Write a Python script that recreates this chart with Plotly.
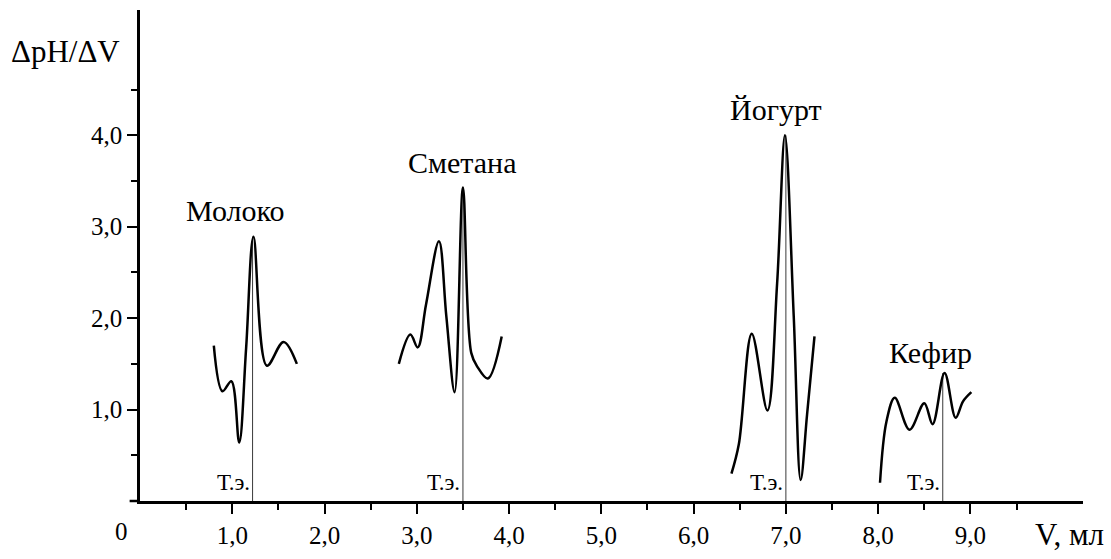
import plotly.graph_objects as go

# ---- data ----
milk_x = [0.80, 0.894, 0.99, 1.075, 1.15, 1.23, 1.375, 1.556, 1.70]
milk_y = [1.70, 1.20, 1.31, 0.64, 1.67, 2.89, 1.48, 1.74, 1.50]

cream_x = [2.805, 2.93, 3.01, 3.10, 3.24, 3.32, 3.41, 3.50, 3.59, 3.655, 3.77, 3.92]
cream_y = [1.50, 1.82, 1.68, 2.15, 2.84, 2.02, 1.19, 3.43, 1.62, 1.47, 1.34, 1.80]

yog_x = [6.41, 6.49, 6.63, 6.80, 6.905, 6.99, 7.085, 7.16, 7.23, 7.31]
yog_y = [0.30, 0.62, 1.83, 0.99, 2.38, 4.00, 2.02, 0.23, 0.95, 1.80]

kef_x = [8.02, 8.09, 8.18, 8.34, 8.50, 8.59, 8.72, 8.84, 8.92, 9.01]
kef_y = [0.20, 0.87, 1.13, 0.78, 1.07, 0.84, 1.40, 0.91, 1.09, 1.19]

# equivalence points (Т.э.)
eq_x = [1.22, 3.50, 7.00, 8.70]
eq_top = [2.89, 3.43, 4.00, 1.40]

# product labels
names = ["Молоко", "Сметана", "Йогурт", "Кефир"]
name_x = [1.03, 3.49, 6.89, 8.57]
name_y = [3.18, 3.70, 4.28, 1.62]

# ticks
x_major = [1, 2, 3, 4, 5, 6, 7, 8, 9]
x_major_text = ["1,0", "2,0", "3,0", "4,0", "5,0", "6,0", "7,0", "8,0", "9,0"]
x_minor = [0.5, 1.5, 2.5, 3.5, 4.5, 5.5, 6.5, 7.5, 8.5, 9.5]
y_major = [1, 2, 3, 4]
y_major_text = ["1,0", "2,0", "3,0", "4,0"]
y_minor = [0.5, 1.5, 2.5, 3.5, 4.5]

X_MAX = 10.22
Y_MAX = 5.37

FONT = "Liberation Serif"

fig = go.Figure()

# equivalence vertical lines
vx, vy = [], []
for xe, top in zip(eq_x, eq_top):
    vx += [xe, xe, None]
    vy += [0, top, None]
fig.add_trace(go.Scatter(x=vx, y=vy, mode="lines",
                         line=dict(color="#3a3a3a", width=1),
                         hoverinfo="skip", showlegend=False))

for xs, ys, nm in [(milk_x, milk_y, names[0]), (cream_x, cream_y, names[1]),
                   (yog_x, yog_y, names[2]), (kef_x, kef_y, names[3])]:
    fig.add_trace(go.Scatter(x=xs, y=ys, mode="lines", name=nm,
                             line=dict(color="black", width=2.5, shape="spline", smoothing=1.0),
                             showlegend=False))

ann = []
for nm, lx, ly in zip(names, name_x, name_y):
    ann.append(dict(x=lx, y=ly, xref="x", yref="y", text=nm, showarrow=False,
                    font=dict(family=FONT, size=30, color="black"),
                    xanchor="center", yanchor="middle"))
for xe in eq_x:
    ann.append(dict(x=xe, y=0.2, xref="x", yref="y", text="Т.э.", showarrow=False,
                    font=dict(family=FONT, size=23, color="black"),
                    xanchor="right", yanchor="middle", xshift=-1))
# origin label and axis titles (paper coords, outside the plotting area)
ann.append(dict(x=-0.2 / X_MAX, y=-0.33 / Y_MAX, xref="paper", yref="paper", text="0",
                showarrow=False, font=dict(family=FONT, size=25, color="black"),
                xanchor="center", yanchor="middle"))
ann.append(dict(x=-0.81 / X_MAX, y=4.92 / Y_MAX, xref="paper", yref="paper", text="ΔpH/ΔV",
                showarrow=False, font=dict(family=FONT, size=31, color="black"),
                xanchor="center", yanchor="middle"))
ann.append(dict(x=10.07 / X_MAX, y=-0.37 / Y_MAX, xref="paper", yref="paper", text="V, мл",
                showarrow=False, font=dict(family=FONT, size=31, color="black"),
                xanchor="center", yanchor="middle"))

fig.update_layout(
    width=1111, height=559,
    margin=dict(l=140, r=28, t=10, b=51),
    plot_bgcolor="white", paper_bgcolor="white",
    annotations=ann,
    showlegend=False,
    font=dict(family=FONT, color="black"),
    shapes=[dict(type="line", xref="paper", yref="paper", x0=-0.011, x1=0, y0=0, y1=0,
                 line=dict(color="black", width=2.5))],
)
fig.update_xaxes(range=[0, X_MAX], showgrid=False, zeroline=False,
                 showline=True, linecolor="black", linewidth=2.5,
                 ticks="outside", ticklen=10, tickwidth=2, tickcolor="black",
                 tickmode="array", tickvals=x_major, ticktext=x_major_text,
                 tickfont=dict(family=FONT, size=25, color="black"),
                 minor=dict(tickmode="array", tickvals=x_minor, ticks="outside",
                            ticklen=6, tickwidth=2, tickcolor="black"))
fig.update_yaxes(range=[0, Y_MAX], showgrid=False, zeroline=False,
                 showline=True, linecolor="black", linewidth=2.5,
                 ticks="outside", ticklen=10, tickwidth=2, tickcolor="black",
                 tickmode="array", tickvals=y_major, ticktext=y_major_text,
                 tickfont=dict(family=FONT, size=25, color="black"),
                 minor=dict(tickmode="array", tickvals=y_minor, ticks="outside",
                            ticklen=6, tickwidth=2, tickcolor="black"))

fig.write_html("out.html")
